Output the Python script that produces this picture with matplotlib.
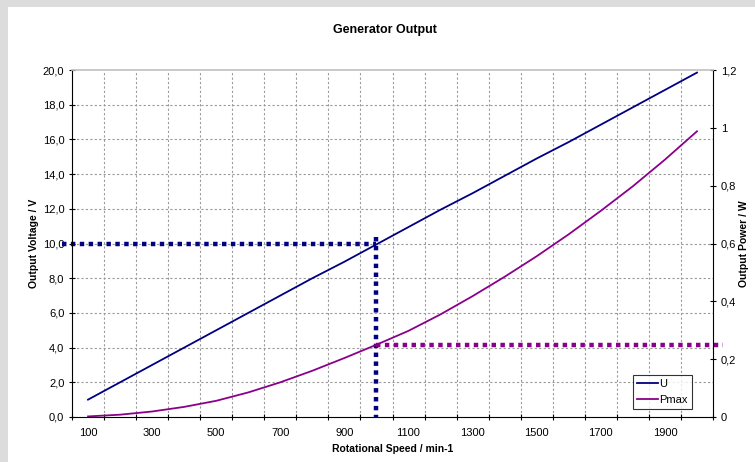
import matplotlib.pyplot as plt
from matplotlib.lines import Line2D
from matplotlib.patches import Rectangle

plt.rcParams["font.family"] = ["Liberation Sans", "DejaVu Sans"]

# rotational speed categories (min-1)
SPEEDS = [100, 200, 300, 400, 500, 600, 700, 800, 900, 1000,
          1100, 1200, 1300, 1400, 1500, 1600, 1700, 1800, 1900, 2000]
# output voltage U / V
VOLTAGE = [1.0, 2.0, 3.0, 4.0, 5.0, 6.0, 7.0, 8.0, 8.95, 9.95,
           10.95, 11.95, 12.9, 13.9, 14.9, 15.85, 16.85, 17.85, 18.85, 19.85]
# output power Pmax / W
POWER = [0.002, 0.008, 0.019, 0.035, 0.056, 0.085, 0.12, 0.16, 0.204, 0.25,
         0.298, 0.355, 0.418, 0.485, 0.556, 0.632, 0.713, 0.798, 0.89, 0.988]

X_TICK_LABELS = ["100", "300", "500", "700", "900", "1100", "1300", "1500", "1700", "1900"]
LEFT_TICKS = [0, 2, 4, 6, 8, 10, 12, 14, 16, 18, 20]
LEFT_TICK_LABELS = ["0,0", "2,0", "4,0", "6,0", "8,0", "10,0", "12,0", "14,0", "16,0", "18,0", "20,0"]
RIGHT_TICKS = [0, 0.2, 0.4, 0.6, 0.8, 1.0, 1.2]
RIGHT_TICK_LABELS = ["0", "0,2", "0,4", "0,6", "0,8", "1", "1,2"]

# reading guides at 1000 min-1 (category index 9)
GUIDE_U_X = [-0.8, 9, 9]
GUIDE_U_Y = [10.0, 10.0, 0.0]
GUIDE_U_TOP = 10.4
GUIDE_P_X = [9, 19.8]
GUIDE_P_Y = [0.25, 0.25]

NAVY = "#000080"
PURPLE = "#8a008a"

fig = plt.figure(figsize=(7.55, 4.62), dpi=100)
fig.patch.set_facecolor("white")
# grey frame strips on the top and left edge
fig.add_artist(Rectangle((0, 1 - 7 / 462), 1, 7 / 462, transform=fig.transFigure,
                         facecolor="#dcdcdc", edgecolor="none"))
fig.add_artist(Rectangle((0, 0), 8 / 755, 1, transform=fig.transFigure,
                         facecolor="#dcdcdc", edgecolor="none"))

ax = fig.add_axes([72 / 755, 45 / 462, 641 / 755, 347 / 462])
ax.set_facecolor("white")
ax2 = ax.twinx()

idx = list(range(len(SPEEDS)))
ax.set_xlim(-0.5, len(SPEEDS) - 0.5)
ax.set_ylim(0, 20)
ax2.set_ylim(0, 1.2)

# grid on category boundaries and voltage ticks
for b in range(1, len(SPEEDS)):
    ax.axvline(b - 0.5, color="#9a9a9a", lw=0.8, ls=(0, (2, 2)), zorder=1)
for t in LEFT_TICKS[1:-1]:
    ax.axhline(t, color="#9a9a9a", lw=0.8, ls=(0, (2, 2)), zorder=1)

ax.plot(idx, VOLTAGE, color=NAVY, lw=1.3, zorder=3)
ax2.plot(idx, POWER, color=PURPLE, lw=1.3, zorder=3)

dots = dict(lw=3.2, ls=(0, (1, 1)), dash_capstyle="butt", clip_on=False, zorder=4)
ax.plot(GUIDE_U_X[:2], GUIDE_U_Y[:2], color=NAVY, **dots)
ax.plot([GUIDE_U_X[1], GUIDE_U_X[2]], [GUIDE_U_TOP, GUIDE_U_Y[2]], color=NAVY, **dots)
ax2.plot(GUIDE_P_X, GUIDE_P_Y, color=PURPLE, **dots)

# spines
for s in ["top", "right", "left", "bottom"]:
    ax.spines[s].set_visible(False)
ax2.spines["top"].set_color("#c0c0c0")
ax2.spines["top"].set_linewidth(1.2)
ax2.spines["left"].set_color("black")
ax2.spines["bottom"].set_color("black")
ax2.spines["right"].set_color("black")
for s in ax2.spines.values():
    s.set_zorder(5)

# x ticks: marks on boundaries, labels on every other category
ax.set_xticks([b - 0.5 for b in range(len(SPEEDS) + 1)])
ax.set_xticklabels([])
ax.set_xticks(idx[::2], minor=True)
ax.set_xticklabels(X_TICK_LABELS, minor=True)
ax.tick_params(axis="x", which="major", direction="inout", length=5, width=0.8)
ax.tick_params(axis="x", which="minor", length=0, pad=8, labelsize=8)

ax.set_yticks(LEFT_TICKS)
ax.set_yticklabels(LEFT_TICK_LABELS)
ax.tick_params(axis="y", direction="inout", length=5, width=0.8, labelsize=8, pad=3)

ax2.set_yticks(RIGHT_TICKS)
ax2.set_yticklabels(RIGHT_TICK_LABELS)
ax2.tick_params(axis="y", direction="inout", length=5, width=0.8, labelsize=8, pad=3)

ax.set_xlabel("Rotational Speed / min-1", fontsize=7.5, fontweight="bold", labelpad=4)
ax.set_ylabel("Output Voltage / V", fontsize=7.5, fontweight="bold", labelpad=3)
ax2.set_ylabel("Output Power / W", fontsize=7.5, fontweight="bold", labelpad=2)
fig.text(385 / 755, 1 - 30 / 462, "Generator Output", ha="center", va="center",
         fontsize=9, fontweight="bold")

handles = [Line2D([], [], color=NAVY, lw=1.3), Line2D([], [], color=PURPLE, lw=1.3)]
leg = ax2.legend(handles, ["U", "Pmax"], loc="lower right", bbox_to_anchor=(0.967, 0.023),
                 fontsize=8, frameon=True, fancybox=False, handlelength=1.9,
                 handletextpad=0.15, borderpad=0.35, labelspacing=0.55, borderaxespad=0)
leg.get_frame().set_edgecolor("black")
leg.get_frame().set_linewidth(0.8)
leg.set_zorder(10)

fig.savefig("out.png", dpi=100)
